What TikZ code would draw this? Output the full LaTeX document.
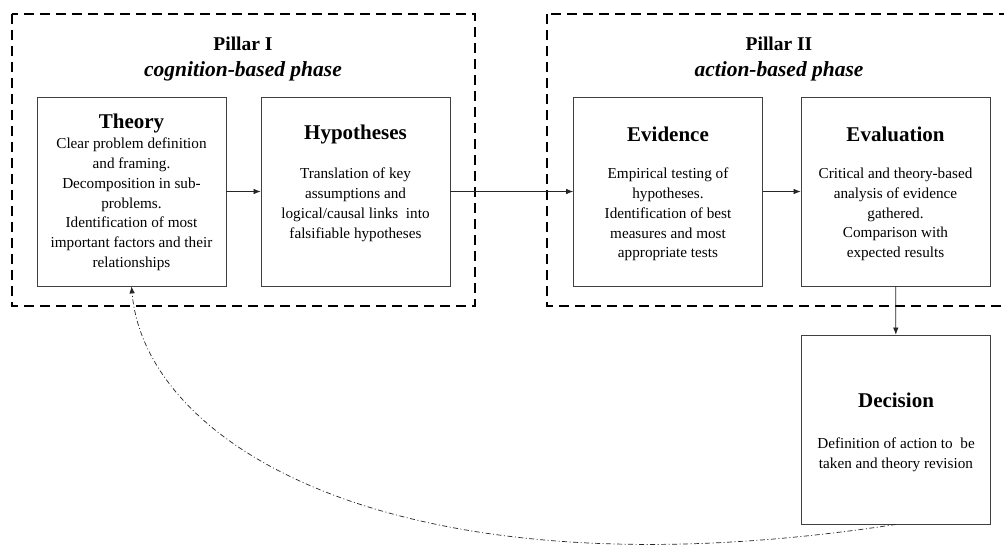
\documentclass[tikz,border=0pt]{standalone}
\usepackage{fontspec}
\setmainfont{Liberation Serif}
\usetikzlibrary{arrows.meta}
\begin{document}
\begin{tikzpicture}[x=1pt,y=-1pt,
  pillar/.style={draw=black,line width=2.6pt,dash pattern=on 10pt off 6pt},
  stepbox/.style={draw=black!75,line width=0.8pt,minimum width=189pt,minimum height=189pt,inner sep=0pt},
  head/.style={font=\fontsize{21}{24}\selectfont\bfseries,anchor=center,inner sep=0pt},
  body/.style={font=\fontsize{15.2}{19.7}\selectfont,align=center,anchor=north,inner sep=0pt},
  ptitle/.style={font=\fontsize{19.5}{26}\selectfont\bfseries,align=center,inner sep=0pt},
  arr/.style={-{Latex[length=7pt,width=5.5pt]},line width=0.7pt,draw=black!85},
  fb/.style={-{Latex[length=7pt,width=5.5pt]},line width=0.7pt,draw=black!85,dash pattern=on 5pt off 2.5pt on 1pt off 2.5pt}
]
\clip (0,0) rectangle (1004,544);
\fill[white] (0,0) rectangle (1004,544);

\draw[pillar] (12,14) rectangle (475,306);
\draw[pillar] (547,14) rectangle (1030,306);

\node[ptitle] (p1) at (243,59) {Pillar I\\\fontsize{21.5}{26}\selectfont\itshape cognition-based phase};
\node[ptitle] (p2) at (779,59) {Pillar II\\\fontsize{21.5}{26}\selectfont\itshape action-based phase};

\node[stepbox] (theory) at (131.5,191.5) {};
\node[stepbox] (hyp) at (355.5,191.5) {};
\node[stepbox] (evid) at (668,191.5) {};
\node[stepbox] (eval) at (895.5,191.5) {};
\node[stepbox] (dec) at (896,429.5) {};

\node[head] (theoryh) at (131.5,123) {Theory};
\node[body] (theoryb) at (131.5,138) {Clear problem definition\\and framing.\\Decomposition in sub-\\problems.\\Identification of most\\important factors and their\\relationships};

\node[head] (hyph) at (355.5,134) {Hypotheses};
\node[body] (hypb) at (355.5,168) {Translation of key\\assumptions and\\logical/causal links\ \ into\\falsifiable hypotheses};

\node[head] (evidh) at (668,134) {Evidence};
\node[body] (evidb) at (668,168) {Empirical testing of\\hypotheses.\\Identification of best\\measures and most\\appropriate tests};

\node[head] (evalh) at (895.5,134) {Evaluation};
\node[body] (evalb) at (895.5,168) {Critical and theory-based\\analysis of evidence\\gathered.\\Comparison with\\expected results};

\node[head] (dech) at (896,400) {Decision};
\node[body] (decb) at (896,438) {Definition of action to\ \ be\\taken and theory revision};

\draw[arr] (theory) -- (hyp);
\draw[arr] (hyp) -- (evid);
\draw[arr] (evid) -- (eval);
\draw[arr] (eval) -- (dec);
\draw[fb] (dec.south) .. controls +(-497,76) and +(14,160) .. (theory.south);
\end{tikzpicture}
\end{document}
